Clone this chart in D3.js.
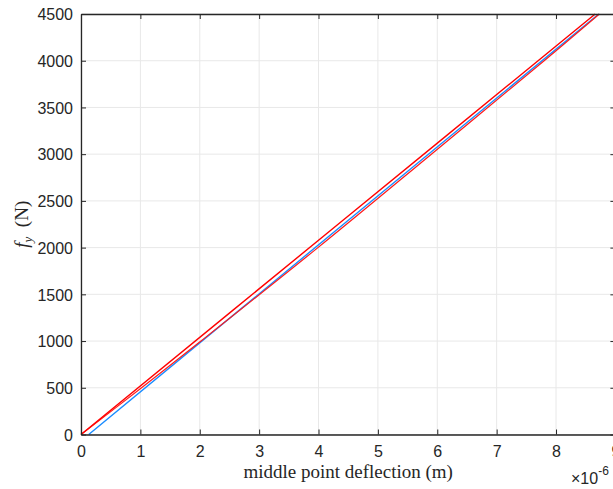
<!DOCTYPE html>
<html>
<head>
<meta charset="utf-8">
<script src="https://cdn.jsdelivr.net/npm/d3@7"></script>
<style>
  body { margin: 0; background: #fff; }
  svg text { fill: #262626; }
</style>
</head>
<body>
<script>
var W = 613, H = 489;
var margin = {top: 14, left: 81, bottom: 54};
var plotW = 534.4; // axis runs past the window edge, like the original

// deflection in 1e-6 m, force in N
var redUpperX = [0, 4.33, 8.66];
var redUpperY = [0, 2250, 4500];
var blueX = [0.13, 4.42, 8.72];
var blueY = [0, 2250, 4500];
var redLowerX = [0, 1.02, 2.02, 3.99, 5.90, 7.80, 8.73];
var redLowerY = [0, 500, 1000, 2000, 3000, 4000, 4500];

var xTicks = [0, 1, 2, 3, 4, 5, 6, 7, 8, 9];
var yTicks = [0, 500, 1000, 1500, 2000, 2500, 3000, 3500, 4000, 4500];

var svg = d3.select('body').append('svg')
  .attr('width', W).attr('height', H);

var x = d3.scaleLinear().domain([0, 9]).range([margin.left, margin.left + plotW]);
var y = d3.scaleLinear().domain([0, 4500]).range([H - margin.bottom - 0.5, margin.top]);

var g = svg.append('g');

// grid
g.selectAll('.gx').data(xTicks).enter().append('line')
  .attr('x1', d => x(d)).attr('x2', d => x(d))
  .attr('y1', y(0)).attr('y2', y(4500))
  .attr('stroke', '#e8e8e8').attr('stroke-width', 1);
g.selectAll('.gy').data(yTicks).enter().append('line')
  .attr('x1', x(0)).attr('x2', x(9))
  .attr('y1', d => y(d)).attr('y2', d => y(d))
  .attr('stroke', '#e8e8e8').attr('stroke-width', 1);

// lines
var line = d3.line().x(d => x(d[0])).y(d => y(d[1])).curve(d3.curveCatmullRom);
function pairs(xs, ys) { return xs.map((v, i) => [v, ys[i]]); }

g.append('path').datum(pairs(blueX, blueY))
  .attr('d', line).attr('fill', 'none')
  .attr('stroke', '#1a8cff').attr('stroke-width', 1.4);
g.append('path').datum(pairs(redLowerX, redLowerY))
  .attr('d', line).attr('fill', 'none')
  .attr('stroke', '#ff1a1a').attr('stroke-width', 1.2);
g.append('path').datum(pairs(redUpperX, redUpperY))
  .attr('d', line).attr('fill', 'none')
  .attr('stroke', '#ff0000').attr('stroke-width', 1.4);

// axes, ticks pointing inward
var axisColor = '#262626';
var fontFam = 'Liberation Sans, Arial, sans-serif';

var xAxis = d3.axisBottom(x).tickValues(xTicks).tickFormat(d3.format('d'))
  .tickSizeInner(-5).tickSizeOuter(0).tickPadding(11);
var gx = svg.append('g').attr('transform', 'translate(0,' + y(0) + ')').call(xAxis);

var yAxis = d3.axisLeft(y).tickValues(yTicks).tickFormat(d3.format('d'))
  .tickSizeInner(-5).tickSizeOuter(0).tickPadding(8);
var gy = svg.append('g').attr('transform', 'translate(' + x(0) + ',0)').call(yAxis);

var xTop = d3.axisTop(x).tickValues(xTicks).tickFormat('')
  .tickSizeInner(-5).tickSizeOuter(0);
var gxt = svg.append('g').attr('transform', 'translate(0,' + y(4500) + ')').call(xTop);

var yRight = d3.axisRight(y).tickValues(yTicks).tickFormat('')
  .tickSizeInner(-5).tickSizeOuter(0);
var gyr = svg.append('g').attr('transform', 'translate(' + x(9) + ',0)').call(yRight);

[gx, gy, gxt, gyr].forEach(function(a) {
  a.selectAll('path').attr('stroke', axisColor).attr('stroke-width', 1.3);
  a.selectAll('line').attr('stroke', axisColor).attr('stroke-width', 1);
  a.selectAll('text').attr('fill', axisColor)
    .style('font-family', fontFam).style('font-size', '16px');
});
gx.selectAll('text').attr('dy', '0.71em');
gy.selectAll('text').attr('dy', '0.36em');

// axis labels
svg.append('text')
  .attr('x', x(4.5)).attr('y', 478)
  .attr('text-anchor', 'middle')
  .style('font-family', 'Liberation Serif, DejaVu Serif, serif')
  .style('font-size', '19px')
  .text('middle point deflection (m)');

var yl = svg.append('text')
  .attr('transform', 'translate(28,' + ((y(0) + y(4500)) / 2) + ') rotate(-90)')
  .attr('text-anchor', 'middle')
  .style('font-family', 'Liberation Serif, DejaVu Serif, serif')
  .style('font-size', '19px');
yl.append('tspan').style('font-style', 'italic').text('f');
yl.append('tspan').style('font-style', 'italic').style('font-size', '13px')
  .attr('dy', 4).text('y');
yl.append('tspan').attr('dy', -4).text('\u2002(N)');

// exponent label
var ex = svg.append('text')
  .attr('x', 571).attr('y', 484)
  .style('font-family', fontFam).style('font-size', '16px');
ex.append('tspan').text('\u00d710');
ex.append('tspan').attr('dy', -9).style('font-size', '12px').text('-6');
</script>
</body>
</html>
